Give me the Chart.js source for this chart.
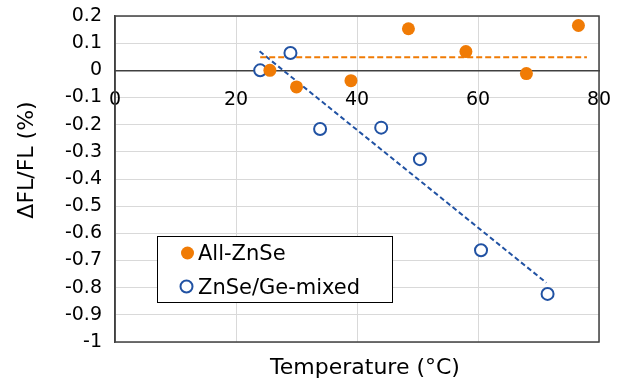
<!DOCTYPE html>
<html>
<head>
<meta charset="utf-8">
<script src="https://cdn.jsdelivr.net/npm/chart.js@4.4.1/dist/chart.umd.min.js"></script>
<style>
  html, body { margin: 0; padding: 0; background: #fff; }
</style>
</head>
<body>
<canvas id="myChart" width="625" height="383"></canvas>
<script>
// values
const allZnSeX = [25.6, 30.0, 39.0, 48.5, 58.0, 68.0, 76.6];
const allZnSeY = [0.0, -0.061, -0.038, 0.153, 0.069, -0.012, 0.165];
const mixedX = [24.0, 29.0, 33.9, 44.0, 50.4, 60.5, 71.5];
const mixedY = [0.0, 0.064, -0.216, -0.211, -0.327, -0.662, -0.823];
const allTrendX = [24.0, 78.0];
const allTrendY = [0.048, 0.048];
const mixedTrendX = [23.9, 71.3];
const mixedTrendY = [0.070, -0.782];
const xTickLabels = ['0', '20', '40', '60', '80'];
const yTickLabels = ['-1', '-0.9', '-0.8', '-0.7', '-0.6', '-0.5', '-0.4', '-0.3', '-0.2', '-0.1', '0', '0.1', '0.2'];
const seriesNames = ['All-ZnSe', 'ZnSe/Ge-mixed'];

const orange = '#F07B05';
const blue = '#2152A3';
const font = 'DejaVu Sans';

const toPoints = (xs, ys) => xs.map((x, i) => ({ x: x, y: ys[i] }));

// plot frame, axis titles and the legend box inside the plot
const extras = {
  id: 'extras',
  beforeDatasetsDraw(chart) {
    const c = chart.ctx, a = chart.chartArea;
    c.save();
    c.strokeStyle = '#404040';
    c.lineWidth = 1.5;
    c.strokeRect(a.left, a.top, a.right - a.left, a.bottom - a.top);
    c.restore();
  },
  afterDraw(chart) {
    const c = chart.ctx;
    c.save();
    c.fillStyle = '#000';
    c.font = '22px "' + font + '"';
    c.textAlign = 'center';
    c.textBaseline = 'middle';
    c.fillText('Temperature (°C)', 365, 368);
    c.translate(27, 160);
    c.rotate(-Math.PI / 2);
    c.fillText('ΔFL/FL (%)', 0, 0);
    c.restore();

    c.save();
    c.fillStyle = '#fff';
    c.fillRect(157.5, 236.5, 235, 66);
    c.strokeStyle = '#000';
    c.lineWidth = 1;
    c.strokeRect(157.5, 236.5, 235, 66);
    c.beginPath();
    c.arc(187.5, 253, 6.5, 0, Math.PI * 2);
    c.fillStyle = orange;
    c.fill();
    c.beginPath();
    c.arc(186.5, 286.5, 6, 0, Math.PI * 2);
    c.strokeStyle = blue;
    c.lineWidth = 2;
    c.stroke();
    c.fillStyle = '#000';
    c.font = '21px "' + font + '"';
    c.textBaseline = 'alphabetic';
    c.fillText(seriesNames[0], 198, 260);
    c.fillText(seriesNames[1], 198, 293.5);
    c.restore();
  }
};

new Chart(document.getElementById('myChart'), {
  type: 'scatter',
  data: {
    datasets: [
      {
        label: seriesNames[0],
        data: toPoints(allZnSeX, allZnSeY),
        backgroundColor: orange,
        borderColor: orange,
        pointRadius: 6.5,
        borderWidth: 0
      },
      {
        label: seriesNames[1],
        data: toPoints(mixedX, mixedY),
        backgroundColor: '#fff',
        borderColor: blue,
        pointRadius: 6,
        borderWidth: 2
      },
      {
        label: 'trend1',
        data: toPoints(allTrendX, allTrendY),
        showLine: true,
        borderColor: orange,
        borderWidth: 2,
        borderDash: [6, 3],
        pointRadius: 0
      },
      {
        label: 'trend2',
        data: toPoints(mixedTrendX, mixedTrendY),
        showLine: true,
        borderColor: blue,
        borderWidth: 2,
        borderDash: [5, 3],
        pointRadius: 0
      }
    ]
  },
  options: {
    responsive: false,
    animation: false,
    layout: { padding: { left: 0, top: 16, right: 26, bottom: 41 } },
    plugins: {
      legend: { display: false },
      tooltip: { enabled: false }
    },
    scales: {
      x: {
        type: 'linear',
        min: 0,
        max: 80,
        position: { y: 0 },
        grid: { color: '#d9d9d9', drawTicks: false },
        border: { color: '#404040', width: 1.5 },
        ticks: {
          stepSize: 20,
          padding: 18,
          color: '#000',
          font: { family: font, size: 19 },
          callback: (v, i) => xTickLabels[i]
        },
        afterFit: (scale) => {
          scale.paddingTop = 0; scale.paddingBottom = 0;
          scale.paddingLeft = 0; scale.paddingRight = 0;
        }
      },
      y: {
        min: -1,
        max: 0.2,
        grid: { color: '#d9d9d9', drawTicks: false },
        border: { color: '#404040', width: 1.5 },
        ticks: {
          stepSize: 0.1,
          padding: 13,
          color: '#000',
          font: { family: font, size: 19 },
          callback: (v, i) => yTickLabels[i]
        },
        afterFit: (scale) => {
          scale.width = 115;
          scale.paddingTop = 0; scale.paddingBottom = 0;
        }
      }
    }
  },
  plugins: [extras]
});
</script>
</body>
</html>
